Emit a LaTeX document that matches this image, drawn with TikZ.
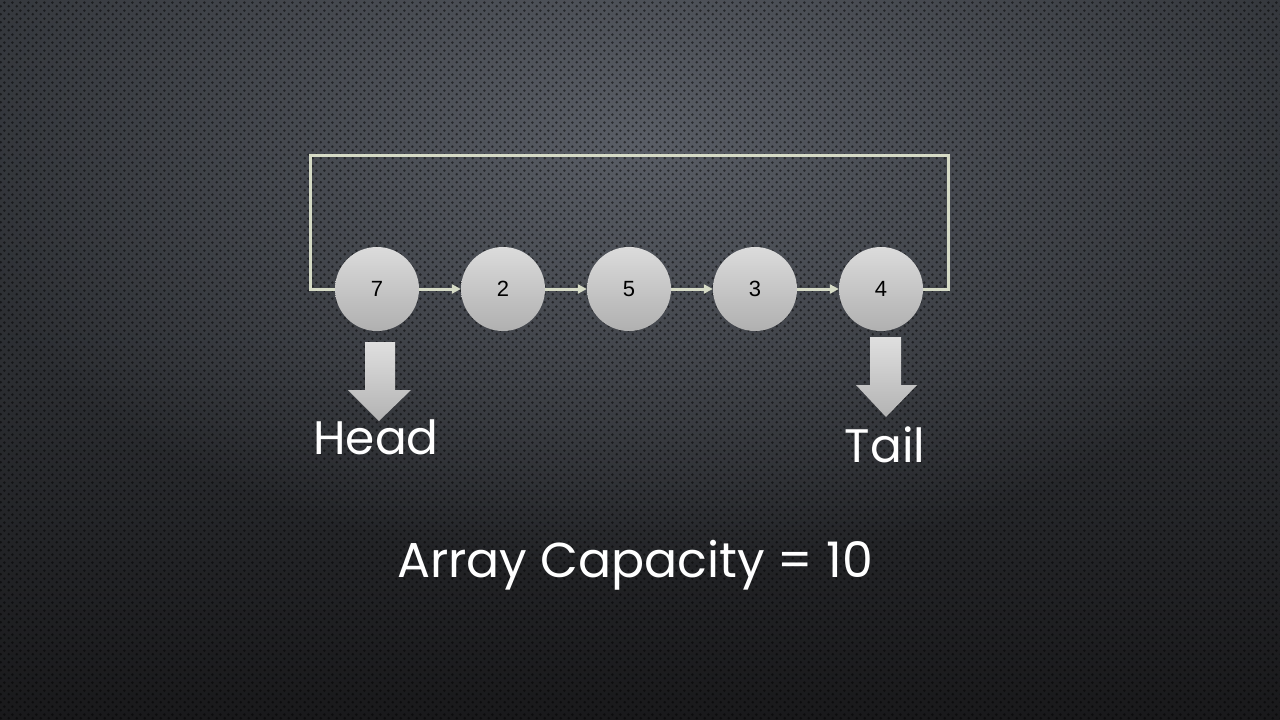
\documentclass[tikz,border=0pt]{standalone}
\usepackage{fontspec}
\setmainfont{Poppins}
\newfontfamily\numfont{Liberation Sans}
\usetikzlibrary{arrows.meta,fadings,patterns.meta}
\definecolor{linec}{HTML}{D6DBC6}
\definecolor{bgtop}{HTML}{34373C}
\definecolor{bgbot}{HTML}{19191B}
\definecolor{glowc}{HTML}{5A5E66}
\tikzfading[name=glowfade, inner color=transparent!0, outer color=transparent!100]
\tikzdeclarepattern{name=mydots, type=uncolored,
  bounding box={(0pt,0pt) and (8pt,8pt)}, tile size={(8pt,8pt)},
  code={\fill (2pt,2pt) circle (1.6pt); \fill (6pt,6pt) circle (1.6pt);}}
\tikzset{
  ball/.style={circle, minimum size=84pt, inner sep=0pt,
    top color=gray!28, bottom color=gray!62, draw=none,
    font=\numfont\fontsize{22}{24}\selectfont, text=black},
  link/.style={draw=linec, line width=3pt, -{Triangle[length=9pt,width=9pt]}},
  loopline/.style={draw=linec, line width=3pt},
  blockarrow/.style={top color=gray!25, bottom color=gray!60, draw=none},
  label/.style={text=white, font=\fontsize{47}{50}\selectfont, inner sep=0pt}
}
\begin{document}
\begin{tikzpicture}[x=1pt,y=-1pt]
\useasboundingbox (0,0) rectangle (1280,720);
% background
\shade[top color=bgtop, bottom color=bgbot, middle color=bgtop!70!bgbot] (0,0) rectangle (1280,720);
\fill[glowc, path fading=glowfade] (640,140) ellipse (700pt and 430pt);
\fill[pattern=mydots, pattern color=black, opacity=0.5] (0,0) rectangle (1280,720);
% nodes
\node[ball] (n7) at (377,289) {7};
\node[ball] (n2) at (503,289) {2};
\node[ball] (n5) at (629,289) {5};
\node[ball] (n3) at (755,289) {3};
\node[ball] (n4) at (881,289) {4};
% links
\draw[link] (n7) -- (n2);
\draw[link] (n2) -- (n5);
\draw[link] (n5) -- (n3);
\draw[link] (n3) -- (n4);
\coordinate (lt) at (310,155);
\coordinate (rt) at (948,155);
\draw[loopline] (n4.east) -| (rt) -- (lt) |- (n7.west);
% block arrows
\shade[blockarrow] (365,342) -- (395,342) -- (395,390) -- (411,390) -- (379,421) -- (348,390) -- (365,390) -- cycle;
\shade[blockarrow] (870,337) -- (901,337) -- (901,385) -- (917,385) -- (886,417) -- (856,385) -- (870,385) -- cycle;
% labels
\node[label] (head) at (376,437) {Head};
\node[label] (tail) at (885,445) {Tail};
\node[label, font=\fontsize{49}{52}\selectfont] (cap) at (635,565) {Array Capacity = 10};
\end{tikzpicture}
\end{document}
